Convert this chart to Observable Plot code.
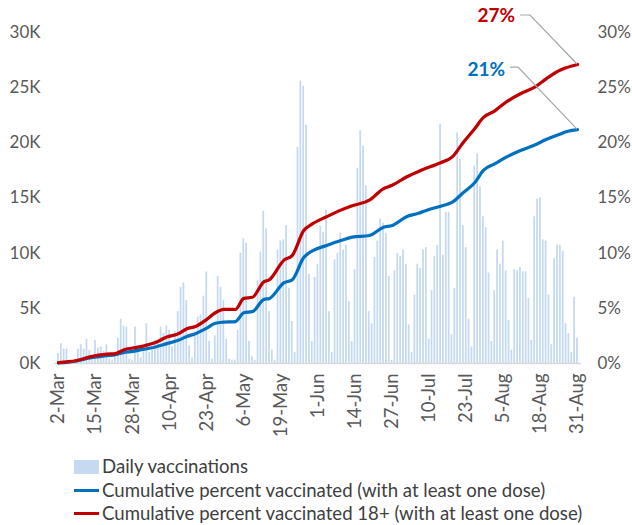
<!DOCTYPE html>
<html><head><meta charset="utf-8">
<script src="https://cdn.jsdelivr.net/npm/d3@7"></script>
<script src="https://cdn.jsdelivr.net/npm/@observablehq/plot@0.6"></script>
<style>
body{margin:0;background:#fff;font-family:Lato,"Open Sans",sans-serif;}
#wrap{position:relative;width:632px;height:525px;}
#legend{position:absolute;left:74px;top:455px;font-size:18.6px;color:#404040;line-height:23.5px;}
.row{display:flex;align-items:center;white-space:nowrap;}
.sw{width:25px;margin-right:3px;}
</style></head><body><div id="wrap"><div id="chart"></div>
<div id="legend">
<div class="row"><span class="sw" style="height:14px;background:#c5daf0"></span>Daily vaccinations</div>
<div class="row"><span class="sw" style="height:3px;background:#0070c0"></span>Cumulative percent vaccinated (with at least one dose)</div>
<div class="row"><span class="sw" style="height:3px;background:#c00000"></span>Cumulative percent vaccinated 18+ (with at least one dose)</div>
</div></div>
<script>
// x tick labels (every 13 days, 2021)
const tickLabels = ["2-Mar","15-Mar","28-Mar","10-Apr","23-Apr","6-May","19-May","1-Jun","14-Jun","27-Jun","10-Jul","23-Jul","5-Aug","18-Aug","31-Aug"];
const startDate = "2-Mar";
// daily vaccinations (thousands), 2-Mar .. 31-Aug
const dailyK = [
 0.9,1.8,1.3,1.3,0.2,0.1,0.1,1.3,1.7,1.3,
 2.2,1.2,0.3,2.1,1.4,1.5,1.1,1.7,0.4,0.3,
 0.6,2.3,4.0,3.4,3.3,0.4,0.3,3.3,1.5,0.5,
 1.3,3.6,1.0,1.2,2.1,2.0,3.3,2.7,3.4,3.0,
 1.5,2.9,4.7,6.9,7.3,5.7,1.6,0.5,2.6,4.2,
 4.4,6.1,8.3,2.0,0.4,2.5,7.9,6.9,5.7,2.2,
 0.4,0.3,0.3,3.0,10.0,11.3,10.9,2.0,0.6,0.3,
 7.5,10.1,13.8,12.2,4.7,1.2,0.3,10.3,11.1,11.2,
 12.5,6.8,3.8,1.0,19.6,25.6,25.1,21.6,8.1,2.0,
 7.8,9.0,12.4,11.9,13.9,4.7,1.0,9.4,10.0,11.8,
 10.3,10.7,5.6,2.0,8.5,17.7,21.1,19.7,16.1,4.7,
 3.6,9.6,11.1,13.1,12.7,11.8,7.9,0.3,8.4,10.0,
 9.7,10.3,9.0,3.5,1.0,6.2,9.0,8.6,10.3,10.5,
 2.2,6.6,9.7,10.7,21.7,9.8,13.7,13.7,2.6,6.8,
 20.9,18.5,12.5,10.5,4.0,1.5,17.9,19.0,16.0,13.3,
 12.3,8.2,2.0,6.6,10.3,9.0,11.1,8.4,3.9,1.2,
 8.5,8.4,8.7,8.3,8.3,5.9,2.1,13.3,14.9,15.0,
 11.2,11.1,6.2,1.7,9.5,10.7,10.7,10.2,3.6,2.7,
 1.0,6.0,2.3];
// cumulative percent (all), read at day offsets from 2-Mar
const blueDays = [0,3,6,11,17,20,23,26,30,34,38,42,45,48,52,55,58,62,65,68,72,74,79,82,86,89,94,99,103,109,114,117,122,126,129,134,138,142,146,149,153,157,162,167,171,176,178,182];
const bluePct  = [0.05,0.1,0.2,0.5,0.7,0.8,1.0,1.1,1.3,1.5,1.8,2.1,2.45,2.7,3.2,3.65,3.75,3.8,4.6,4.7,5.8,5.9,7.3,7.6,9.6,10.2,10.7,11.15,11.45,11.6,12.35,12.5,13.3,13.6,13.87,14.26,14.6,15.5,16.4,17.5,18.1,18.7,19.3,19.8,20.3,20.8,21.0,21.2];
// cumulative percent 18+
const redDays = [0,3,6,11,17,20,23,26,30,34,38,42,45,48,52,55,58,62,65,68,72,74,79,82,86,89,94,99,103,109,114,117,122,127,134,138,142,146,149,153,157,162,167,171,176,178,182];
const redPct  = [0.08,0.15,0.25,0.6,0.85,0.9,1.25,1.4,1.6,1.9,2.4,2.7,3.15,3.35,4.0,4.6,4.9,4.9,5.9,6.0,7.4,7.6,9.35,9.8,12.05,12.65,13.3,13.9,14.3,14.8,15.85,16.15,16.9,17.5,18.2,18.7,20.06,21.3,22.3,22.9,23.7,24.45,25.05,25.8,26.6,26.8,27.1];
const yTicks = [0,5,10,15,20,25,30];
const endLabels = ["27%","21%"];

const parse = s => d3.utcParse("%d-%b-%Y")(s + "-2021");
const t0 = parse(startDate);
const dayDate = i => d3.utcDay.offset(t0, i);
const bars = dailyK.map((v,i) => ({date: dayDate(i), v}));
const blue = blueDays.map((d,i) => ({date: dayDate(d), v: bluePct[i]}));
const red = redDays.map((d,i) => ({date: dayDate(d), v: redPct[i]}));
const tickDates = tickLabels.map(parse);

const plot = Plot.plot({
  width: 632, height: 448,
  marginLeft: 58, marginRight: 55, marginTop: 32, marginBottom: 85,
  x: {type: "utc", domain: [tickDates[0], tickDates[tickDates.length-1]]},
  y: {domain: [0, 30]},
  style: {fontFamily: "Lato, 'Open Sans', sans-serif", fontSize: "17px", color: "#595959", background: "#fff"},
  marks: [
    Plot.rectY(bars, {x1: d => d3.utcHour.offset(d.date, -7.5), x2: d => d3.utcHour.offset(d.date, 7.5), y: "v", fill: "#c5daf0"}),
    Plot.ruleY([0], {stroke: "#d9d9d9", strokeWidth: 1.5, insetLeft: -4, insetRight: -4}),
    Plot.line(blue, {x: "date", y: "v", stroke: "#0070c0", strokeWidth: 3.2, curve: "monotone-x"}),
    Plot.line(red, {x: "date", y: "v", stroke: "#c00000", strokeWidth: 3.2, curve: "monotone-x"}),
    Plot.axisY({anchor: "left", ticks: yTicks, tickFormat: d => d + "K", tickSize: 0, tickPadding: 18, label: null, fill: "#595959"}),
    Plot.axisY({anchor: "right", ticks: yTicks, tickFormat: d => d + "%", tickSize: 0, tickPadding: 20, label: null, fill: "#595959"}),
    Plot.axisX({ticks: tickDates, tickFormat: d3.utcFormat("%-d-%b"), tickRotate: -90, tickSize: 0, tickPadding: 10, label: null, fill: "#595959", fontSize: 18.5})
  ]
});
document.getElementById("chart").appendChild(plot);

// end-value annotations with leader lines, placed through the plot's scales
const sx = plot.scale("x"), sy = plot.scale("y");
const svg = d3.select(plot);
const ends = [
  {v: redPct[redPct.length-1], label: endLabels[0], color: "#c00000", lab: [-62, -49], path: [[-57,-49],[-47,-49]]},
  {v: bluePct[bluePct.length-1], label: endLabels[1], color: "#0070c0", lab: [-72, -60], path: [[-67,-62],[-59,-62]]}
];
const xe = sx.apply(tickDates[tickDates.length-1]);
for (const e of ends) {
  const ye = sy.apply(e.v);
  const pts = [...e.path.map(([dx,dy]) => [xe+dx, ye+dy]), [xe, ye]];
  svg.append("path").attr("d", d3.line()(pts)).attr("fill","none").attr("stroke","#a6a6a6").attr("stroke-width",1.2);
  svg.append("text").attr("x", xe + e.lab[0]).attr("y", ye + e.lab[1]).attr("dy","0.35em")
    .attr("text-anchor","end").attr("fill", e.color).attr("font-weight","bold").attr("font-size","19px").text(e.label);
}
</script></body></html>
